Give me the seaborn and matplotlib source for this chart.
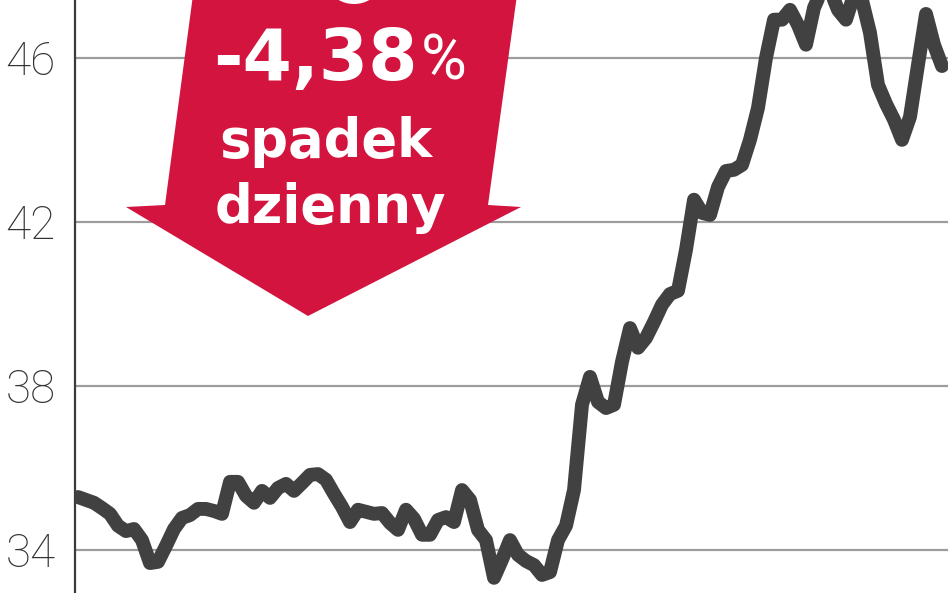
import numpy as np
import pandas as pd
import seaborn as sns
import matplotlib.pyplot as plt
from matplotlib.patches import Polygon, Ellipse

# Daily closing price (PLN), one value per session
price = [35.29, 35.22, 35.15, 35.02, 34.88, 34.59, 34.46, 34.51, 34.24, 33.68,
         33.71, 34.10, 34.51, 34.78, 34.85, 35.00, 35.00, 34.95, 34.88, 35.66,
         35.66, 35.32, 35.15, 35.44, 35.27, 35.51, 35.61, 35.44, 35.63, 35.83,
         35.85, 35.71, 35.37, 35.05, 34.68, 34.98, 34.93, 34.88, 34.90, 34.66,
         34.49, 34.98, 34.76, 34.37, 34.37, 34.73, 34.80, 34.68, 35.46, 35.22,
         34.49, 34.24, 33.32, 33.76, 34.24, 33.88, 33.73, 33.63, 33.39, 33.46,
         34.24, 34.59, 35.46, 37.54, 38.22, 37.61, 37.46, 37.54, 38.59, 39.41,
         38.93, 39.17, 39.56, 39.98, 40.24, 40.32, 41.32, 42.54, 42.22, 42.17,
         42.85, 43.24, 43.27, 43.39, 44.00, 44.78, 46.00, 46.93, 46.93, 47.17,
         46.80, 46.32, 47.22, 47.66, 47.66, 47.17, 46.93, 47.54, 47.41, 46.61,
         45.34, 44.88, 44.49, 44.00, 44.56, 45.83, 47.07, 46.32, 45.80]

yticks = [34, 38, 42, 46]
ytick_labels = ["34", "38", "42", "46"]
change_value = "-4,38"
change_unit = "%"
change_words = ["spadek", "dzienny"]

sns.set_theme(style="white")
plt.rcParams['font.family'] = ['DejaVu Sans']

df = pd.DataFrame({"day": np.arange(len(price)), "price": price})

W, H = 948, 593
fig = plt.figure(figsize=(W / 100, H / 100), dpi=100)
ax = fig.add_axes([75 / W, 0, 1 - 75 / W, 1])

def fx(x, y):
    # pixel position on the picture -> figure fraction
    return (x / W, 1 - y / H)

# grid lines
for v in yticks:
    ax.axhline(v, color="#9c9c9c", lw=1.6, zorder=1)

sns.lineplot(data=df, x="day", y="price", ax=ax, color="#414141",
             linewidth=10, zorder=3)
for ln in ax.lines[len(yticks):]:
    ln.set_solid_joinstyle("round")
    ln.set_solid_capstyle("round")

ax.set_xlim(-0.375, len(price) - 0.25)
ax.set_ylim(32.95, 47.41)
ax.set_xticks([])
ax.set_yticks(yticks)
ax.set_yticklabels(ytick_labels, fontsize=33, color="#333333",
                   fontfamily="Roboto", fontweight="light")
ax.tick_params(axis="y", length=0, pad=14)
ax.set_xlabel("")
ax.set_ylabel("")
for s in ["top", "right", "bottom"]:
    ax.spines[s].set_visible(False)
ax.spines["left"].set_color("#3a3a3a")
ax.spines["left"].set_linewidth(1.6)

# red arrow
red = "#d3143f"
arrow_px = [(193, -5), (517, -5), (488, 205), (521, 207), (308, 316),
            (126, 207), (165, 205)]
fig.patches.append(Polygon([fx(*p) for p in arrow_px], closed=True,
                           facecolor=red, edgecolor="none",
                           transform=fig.transFigure, zorder=5))
fig.patches.append(Ellipse(fx(354, -12), 46 / W, 32 / H, facecolor="white",
                           edgecolor="none", transform=fig.transFigure, zorder=6))

x0, y0 = fx(418, 80)
fig.text(x0, y0, change_value, color="white", fontsize=51, fontweight="bold",
         ha="right", va="baseline", zorder=7)
x1, y1 = fx(421, 80)
fig.text(x1, y1, change_unit, color="white", fontsize=45, fontfamily="Roboto",
         ha="left", va="baseline", zorder=7)
x2, y2 = fx(326, 157)
fig.text(x2, y2, change_words[0], color="white", fontsize=38, fontweight="bold",
         ha="center", va="baseline", zorder=7)
x3, y3 = fx(330, 223)
fig.text(x3, y3, change_words[1], color="white", fontsize=38, fontweight="bold",
         ha="center", va="baseline", zorder=7)

fig.savefig("out.png", dpi=100)
